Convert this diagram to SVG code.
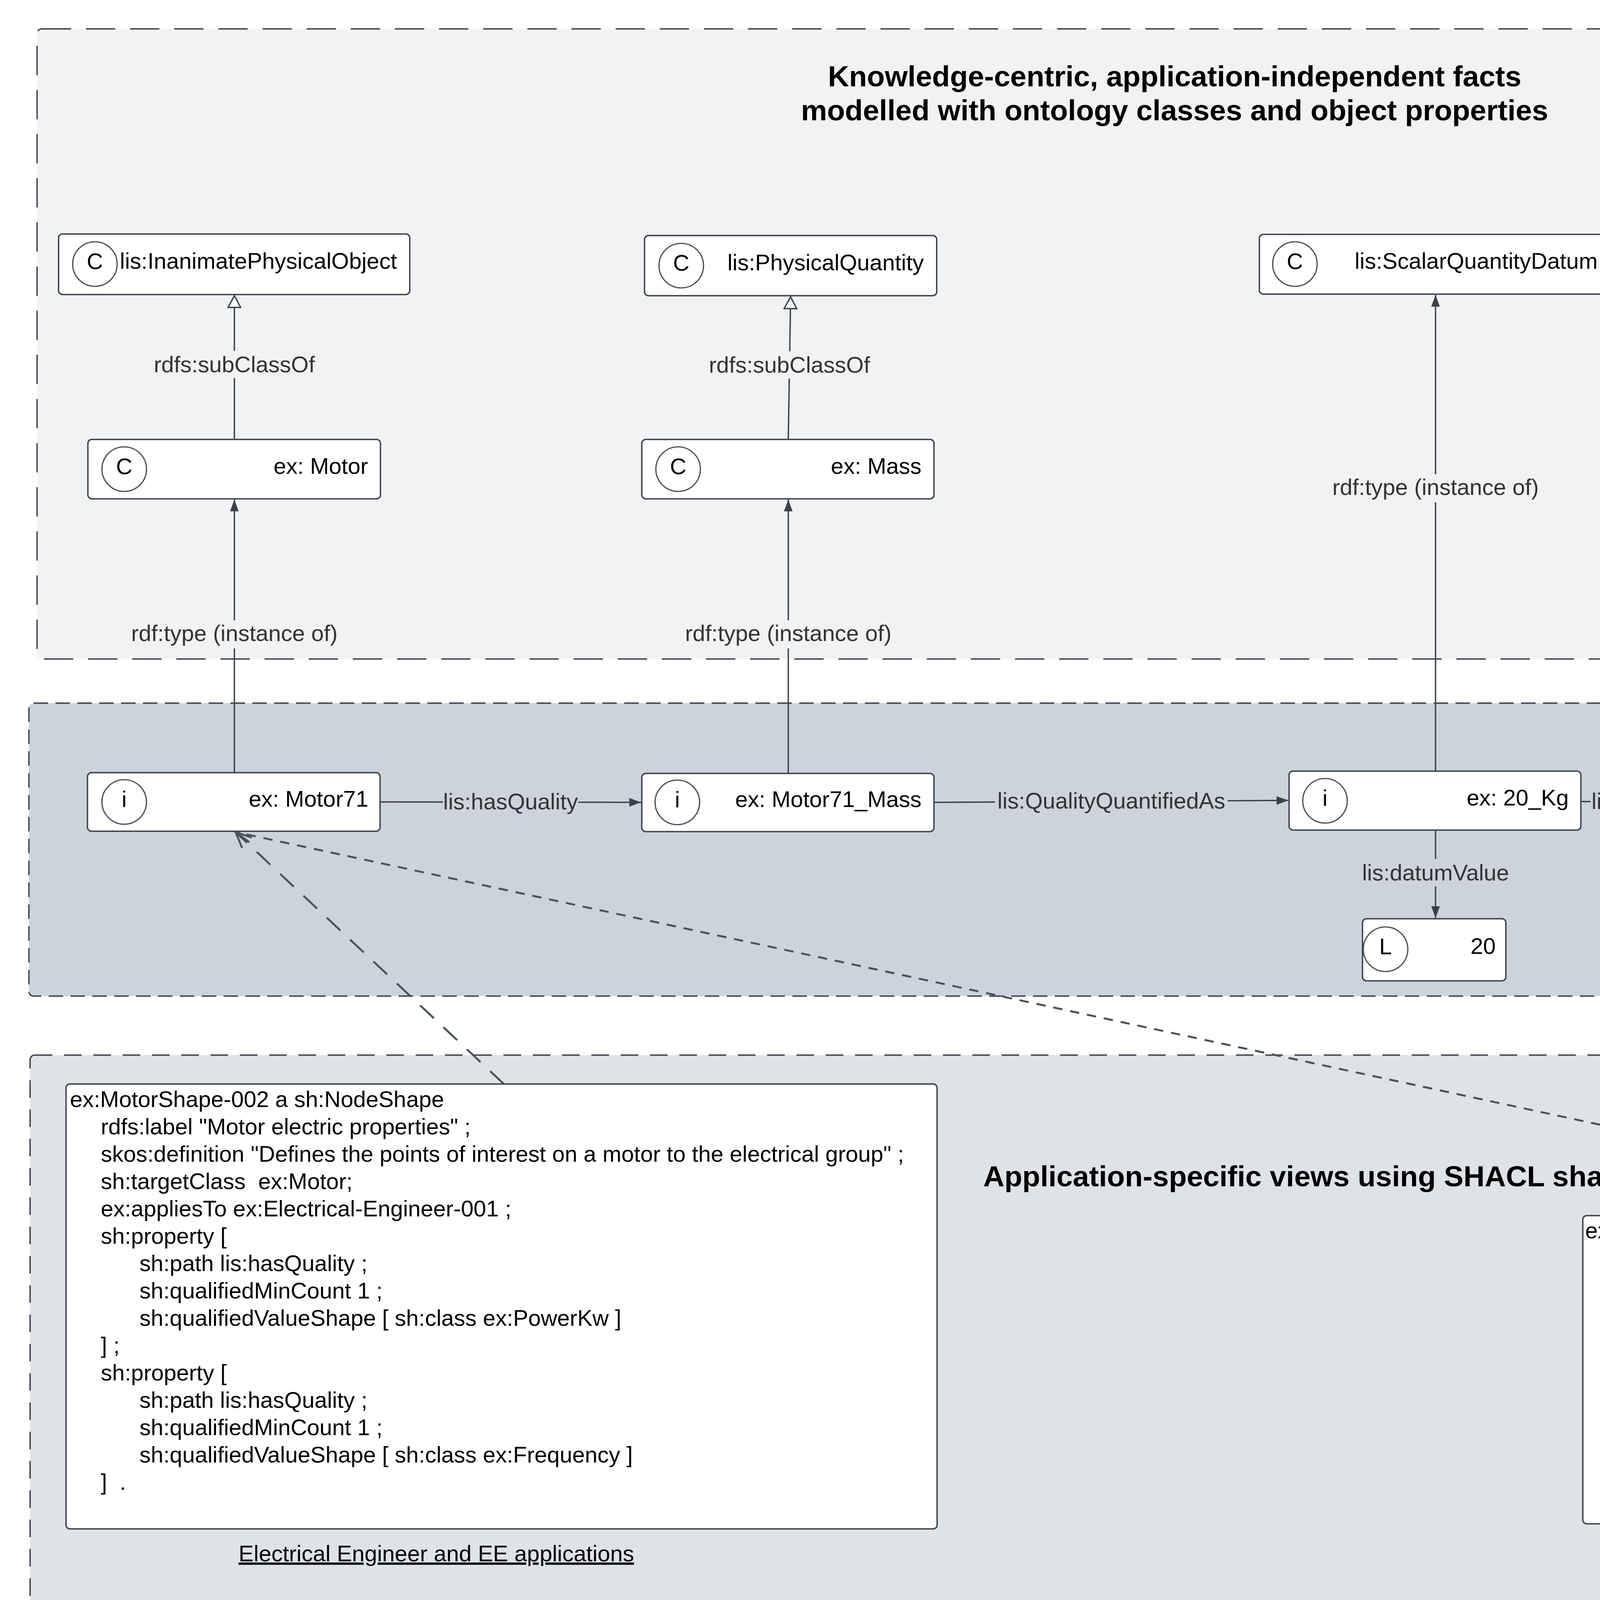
<svg xmlns="http://www.w3.org/2000/svg" width="6767" height="4255" viewBox="0 0 6767 4255" xml:space="preserve">
<defs>
<style>
text{font-family:"Liberation Sans",Arial,sans-serif;white-space:pre;}
.node{fill:#ffffff;stroke:#3a414b;stroke-width:3.5;}
.circ{fill:#ffffff;stroke:#4a515b;stroke-width:3.2;}
.lt{font-size:58px;fill:#000;text-anchor:middle;}
.nt{font-size:58px;fill:#000;text-anchor:end;}
.code{font-size:58px;fill:#000;}
.lbl{font-size:58px;fill:#333333;text-anchor:middle;}
.title{font-size:75px;font-weight:bold;fill:#000;text-anchor:middle;}
.cap{font-size:58px;fill:#000;text-anchor:middle;text-decoration:underline;}
.conn{fill:none;stroke:#3a414b;stroke-width:3.5;}
.dash{fill:none;stroke:#4a515b;stroke-width:5;}
</style>
<marker id="arr" markerUnits="userSpaceOnUse" markerWidth="32" markerHeight="24" refX="30" refY="11" orient="auto">
<path d="M0,0 L30,11 L0,22 z" fill="#3a414b"/>
</marker>
<marker id="tri" markerUnits="userSpaceOnUse" markerWidth="40" markerHeight="40" refX="33" refY="18" orient="auto">
<path d="M3,2 L33,18 L3,34 z" fill="#ffffff" stroke="#3a414b" stroke-width="3.5"/>
</marker>
<marker id="open" markerUnits="userSpaceOnUse" markerWidth="50" markerHeight="50" refX="44" refY="22" orient="auto">
<path d="M4,4 L44,22 L4,40" fill="none" stroke="#4a515b" stroke-width="5"/>
</marker>
</defs>
<rect x="0" y="0" width="6767" height="4255" fill="#ffffff"/>

<g id="containers">
<rect id="knowledge-layer" x="95" y="74" width="6596" height="1613" rx="12" fill="#f1f2f4" stroke="#3a414b" stroke-width="3.5" stroke-dasharray="75 38"/>
<rect id="enterprise-layer" x="74" y="1800" width="6596" height="750" rx="12" fill="#cdd3dc" stroke="#3a414b" stroke-width="3.5" stroke-dasharray="37 19"/>
<rect id="application-layer" x="77" y="2701" width="6559" height="1422" rx="12" fill="#dfe2e6" stroke="#3a414b" stroke-width="3.5" stroke-dasharray="45 30"/>
</g>

<g id="titles">
<text class="title" x="3007" y="221">Knowledge-centric, application-independent facts</text>
<text class="title" x="3007" y="308">modelled with ontology classes and object properties</text>
<text class="title" x="5979" y="184">SHACL shape example on possible</text>
<text class="title" x="5979" y="272">physical properties of interest</text>
<text class="title" x="5306" y="2379">Enterprise-specific facts modelled as instance data</text>
<text class="title" x="3375" y="3037">Application-specific views using SHACL shapes</text>
<text class="cap" x="1117" y="3997">Electrical Engineer and EE applications</text>
<text class="cap" x="5280" y="3997">Safety engineer and safety applications</text>
<text x="104" y="4164" font-size="33" fill="#000">version 4/8/2025</text>
</g>

<g id="connectors">
<line class="conn" x1="600" y1="1125" x2="600" y2="757" marker-end="url(#tri)"/>
<line class="conn" x1="2018" y1="1125" x2="2024" y2="760" marker-end="url(#tri)"/>
<line class="conn" x1="600" y1="1978" x2="600" y2="1279" marker-end="url(#arr)"/>
<line class="conn" x1="2018" y1="1980" x2="2018" y2="1279" marker-end="url(#arr)"/>
<line class="conn" x1="3675" y1="1974" x2="3675" y2="755" marker-end="url(#arr)"/>
<line class="conn" x1="4948" y1="1975" x2="4948" y2="755" marker-end="url(#arr)"/>
<line class="conn" x1="975" y1="2053" x2="1641" y2="2054" marker-end="url(#arr)"/>
<line class="conn" x1="2393" y1="2054" x2="3298" y2="2049" marker-end="url(#arr)"/>
<line class="conn" x1="4049" y1="2052" x2="4574" y2="2052" marker-end="url(#arr)"/>
<line class="conn" x1="3675" y1="2127" x2="3675" y2="2350" marker-end="url(#arr)"/>
<line class="dash" x1="1290" y1="2775" x2="603" y2="2130" stroke-dasharray="48 34" marker-end="url(#open)"/>
<line class="dash" x1="5172" y1="3110" x2="603" y2="2130" stroke-dasharray="24 20" marker-end="url(#open)"/>
<rect x="385" y="898" width="430" height="70" fill="#f1f2f4"/>
<text class="lbl" x="600" y="953">rdfs:subClassOf</text>
<rect x="1806" y="899" width="430" height="70" fill="#f1f2f4"/>
<text class="lbl" x="2021" y="954">rdfs:subClassOf</text>
<rect x="330" y="1588" width="540" height="72" fill="#f1f2f4"/>
<text class="lbl" x="600" y="1641">rdf:type (instance of)</text>
<rect x="1748" y="1588" width="540" height="72" fill="#f1f2f4"/>
<text class="lbl" x="2018" y="1641">rdf:type (instance of)</text>
<rect x="3405" y="1214" width="540" height="72" fill="#f1f2f4"/>
<text class="lbl" x="3675" y="1267">rdf:type (instance of)</text>
<rect x="4678" y="1214" width="540" height="72" fill="#f1f2f4"/>
<text class="lbl" x="4948" y="1267">rdf:type (instance of)</text>
<rect x="1134" y="2025" width="346" height="60" fill="#cdd3dc"/>
<text class="lbl" x="1307" y="2072">lis:hasQuality</text>
<rect x="2547" y="2021" width="596" height="60" fill="#cdd3dc"/>
<text class="lbl" x="2845" y="2070">lis:QualityQuantifiedAs</text>
<rect x="4072" y="2022" width="372" height="60" fill="#cdd3dc"/>
<text class="lbl" x="4258" y="2071">lis:datumUOM</text>
<rect x="3483" y="2199" width="384" height="70" fill="#cdd3dc"/>
<text class="lbl" x="3675" y="2254">lis:datumValue</text>
</g>

<g id="n-inanimate">
<rect class="node" x="150" y="599" width="899" height="155" rx="10"/>
<circle class="circ" cx="243" cy="676" r="57"/>
<text class="lt" x="243" y="689">C</text>
<text class="nt" x="1016" y="688">lis:InanimatePhysicalObject</text>
</g>
<g id="n-physicalquantity">
<rect class="node" x="1650" y="603" width="748" height="154" rx="10"/>
<circle class="circ" cx="1744" cy="680" r="57"/>
<text class="lt" x="1744" y="693">C</text>
<text class="nt" x="2365" y="692">lis:PhysicalQuantity</text>
</g>
<g id="n-scalarquantitydatum">
<rect class="node" x="3224" y="600" width="900" height="153" rx="10"/>
<circle class="circ" cx="3315" cy="676" r="57"/>
<text class="lt" x="3315" y="689">C</text>
<text class="nt" x="4090" y="688">lis:ScalarQuantityDatum</text>
</g>
<g id="n-unitofmeasure">
<rect class="node" x="4573" y="600" width="752" height="153" rx="10"/>
<circle class="circ" cx="4665" cy="676" r="57"/>
<text class="lt" x="4665" y="689">C</text>
<text class="nt" x="5290" y="688">lis:UnitOfMeasure</text>
</g>
<g id="n-motor">
<rect class="node" x="225" y="1125" width="749" height="152" rx="10"/>
<circle class="circ" cx="318" cy="1201" r="57"/>
<text class="lt" x="318" y="1214">C</text>
<text class="nt" x="942" y="1213">ex: Motor</text>
</g>
<g id="n-mass">
<rect class="node" x="1643" y="1125" width="748" height="152" rx="10"/>
<circle class="circ" cx="1736" cy="1201" r="57"/>
<text class="lt" x="1736" y="1214">C</text>
<text class="nt" x="2359" y="1213">ex: Mass</text>
</g>
<g id="n-motor71">
<rect class="node" x="224" y="1978" width="749" height="150" rx="10"/>
<circle class="circ" cx="318" cy="2053" r="57"/>
<text class="lt" x="318" y="2066">i</text>
<text class="nt" x="943" y="2065">ex: Motor71</text>
</g>
<g id="n-motor71mass">
<rect class="node" x="1643" y="1980" width="748" height="149" rx="10"/>
<circle class="circ" cx="1734" cy="2054" r="57"/>
<text class="lt" x="1734" y="2067">i</text>
<text class="nt" x="2359" y="2066">ex: Motor71_Mass</text>
</g>
<g id="n-20kg">
<rect class="node" x="3300" y="1974" width="747" height="151" rx="10"/>
<circle class="circ" cx="3392" cy="2050" r="57"/>
<text class="lt" x="3392" y="2063">i</text>
<text class="nt" x="4016" y="2062">ex: 20_Kg</text>
</g>
<g id="n-kg">
<rect class="node" x="4576" y="1975" width="747" height="151" rx="10"/>
<circle class="circ" cx="5044" cy="2050" r="57"/>
<text class="lt" x="5044" y="2063">i</text>
<text class="nt" x="5290" y="2062">ex: Kg</text>
</g>
<g id="n-literal20">
<rect class="node" x="3488" y="2352" width="367" height="159" rx="10"/>
<circle class="circ" cx="3547" cy="2430" r="57"/>
<text class="lt" x="3547" y="2443">L</text>
<text class="nt" x="3829" y="2442">20</text>
</g>

<g id="n-other-properties">
<rect x="5400" y="1838" width="1198" height="373" rx="8" fill="#ffffff" stroke="#9aa0a8" stroke-width="3"/>
<text class="code" x="5409" y="1909">Other potential physical properties of interest</text>
<text class="code" x="5409" y="1979">ex:Power (kW)</text>
<text class="code" x="5409" y="2049">ex:IP rating</text>
<text class="code" x="5409" y="2119">ex: Noise level (dN)</text>
<text class="code" x="5409" y="2189">ex: Frequency (Hz)</text>
</g>

<g id="n-scalar-shape">
<rect class="node" x="5438" y="338" width="1179" height="1292" rx="8"/>
<text class="code" x="5445" y="464">ex:ScalarQuantityDatumShape a</text>
<text class="code" x="5445" y="534">sh:NodeShape</text>
<text class="code" x="5527" y="604">rdfs:label "Motor attributes" ;</text>
<text class="code" x="5527" y="674">skos:definition "DataValidation for unit of</text>
<text class="code" x="5445" y="744">measure and datatype" ;</text>
<text class="code" x="5527" y="814">sh:targetClass  ex:Mass ;</text>
<text class="code" x="5527" y="884">ex:appliesTo ex:DataModeller;</text>
<text class="code" x="5527" y="954">sh:property [</text>
<text class="code" x="5625" y="1024">sh:path lis:datumValue ;</text>
<text class="code" x="5625" y="1094">sh:qualifiedMinCount 1 ;</text>
<text class="code" x="5625" y="1164">sh:datatype xsd:float ];</text>
<text class="code" x="5527" y="1234">sh:property [</text>
<text class="code" x="5625" y="1304">sh:path lis:qualityQuantifiedAs;</text>
<text class="code" x="5625" y="1374">sh:node [</text>
<text class="code" x="5690" y="1444">sh:path lis:datumUOM ;</text>
<text class="code" x="5690" y="1514">sh:node [sh:in (exUnit:KiloGM)] ]</text>
<text class="code" x="5527" y="1584">] .</text>
</g>

<g id="n-motorshape-002">
<rect class="node" x="169" y="2775" width="2230" height="1139" rx="10"/>
<text class="code" x="179" y="2834">ex:MotorShape-002 a sh:NodeShape</text>
<text class="code" x="258" y="2904">rdfs:label "Motor electric properties" ;</text>
<text class="code" x="258" y="2974">skos:definition "Defines the points of interest on a motor to the electrical group" ;</text>
<text class="code" x="258" y="3044">sh:targetClass  ex:Motor;</text>
<text class="code" x="258" y="3114">ex:appliesTo ex:Electrical-Engineer-001 ;</text>
<text class="code" x="258" y="3184">sh:property [</text>
<text class="code" x="357" y="3254">sh:path lis:hasQuality ;</text>
<text class="code" x="357" y="3324">sh:qualifiedMinCount 1 ;</text>
<text class="code" x="357" y="3394">sh:qualifiedValueShape [ sh:class ex:PowerKw ]</text>
<text class="code" x="258" y="3464">] ;</text>
<text class="code" x="258" y="3534">sh:property [</text>
<text class="code" x="357" y="3604">sh:path lis:hasQuality ;</text>
<text class="code" x="357" y="3674">sh:qualifiedMinCount 1 ;</text>
<text class="code" x="357" y="3744">sh:qualifiedValueShape [ sh:class ex:Frequency ]</text>
<text class="code" x="258" y="3814">]  .</text>
</g>

<g id="n-motorshape-001">
<rect class="node" x="4052" y="3112" width="2228" height="789" rx="10"/>
<text class="code" x="4058" y="3170">ex:MotorShape-001 a sh:NodeShape</text>
<text class="code" x="4140" y="3240">rdfs:label "Motor safety properties" ;</text>
<text class="code" x="4140" y="3310">skos:definition "Defines the points of interest on a motor to the safety group" ;</text>
<text class="code" x="4140" y="3380">sh:targetClass  ex:Motor;</text>
<text class="code" x="4140" y="3450">ex:appliesTo ex:Safety-Engineer-001 ;</text>
<text class="code" x="4140" y="3520">sh:property [</text>
<text class="code" x="4237" y="3590">sh:path lis:hasQuality ;</text>
<text class="code" x="4237" y="3660">sh:qualifiedMinCount 1 ;</text>
<text class="code" x="4237" y="3730">sh:qualifiedValueShape [ sh:class ex:NoiseLevel ]</text>
<text class="code" x="4140" y="3800">]  .</text>
</g>
</svg>
